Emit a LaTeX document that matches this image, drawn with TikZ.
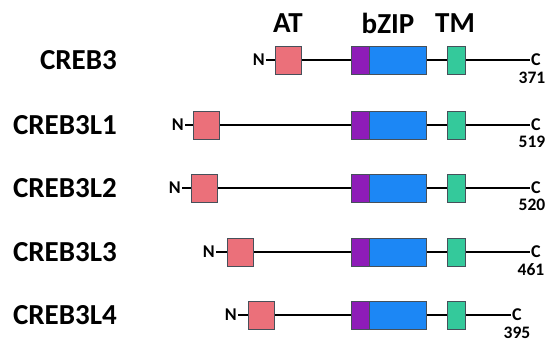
\documentclass[tikz,border=0pt]{standalone}
\usepackage{fontspec}
\setmainfont{Carlito}
\usepackage{xcolor}
\usetikzlibrary{positioning}

\definecolor{atpink}{RGB}{235,112,122}
\definecolor{basicpurple}{RGB}{142,28,184}
\definecolor{zipblue}{RGB}{28,135,245}
\definecolor{tmgreen}{RGB}{52,201,155}
\definecolor{boxedge}{RGB}{70,80,90}

\tikzset{
  genename/.style={
    anchor=east, inner sep=0pt, font=\fontsize{29}{31}\selectfont\bfseries
  },
  domainlabel/.style={
    inner sep=0pt, font=\fontsize{29}{31}\selectfont\bfseries
  },
  termlabel/.style={
    inner sep=1pt, font=\fontsize{18}{20}\selectfont\bfseries
  },
  lenlabel/.style={
    inner sep=0pt, font=\fontsize{17.5}{19}\selectfont\bfseries
  },
  backbone/.style={line width=2pt, black},
  domainbox/.style={
    draw=boxedge, line width=0.5pt, inner sep=0pt, minimum height=28pt
  },
  atbox/.style={domainbox, fill=atpink, minimum width=26pt},
  basicbox/.style={domainbox, fill=basicpurple, minimum width=18pt},
  zipbox/.style={domainbox, fill=zipblue, minimum width=57pt},
  tmbox/.style={domainbox, fill=tmgreen, minimum width=18pt},
}

\begin{document}
\begin{tikzpicture}[x=1pt, y=-1pt]
  \useasboundingbox (0,0) rectangle (547,343);

  % ── domain headers ──
  \node[domainlabel] (hdrat)   at (288,23) {AT};
  \node[domainlabel] (hdrzip)  at (388,23) {bZIP};
  \node[domainlabel] (hdrtm)   at (455,23) {TM};

  % ── CREB3 ──
  \node[genename] (name1) at (117,60) {CREB3};
  \node[termlabel, anchor=east] (nterm1) at (266,60) {N};
  \node[termlabel, anchor=west] (cterm1) at (530,60) {C};
  \draw[backbone] (nterm1.east) -- (cterm1.west);
  \node[lenlabel] (len1) at (532,78) {371};
  \node[atbox]    (at1)    at (288,60) {};
  \node[basicbox] (basic1) at (360,60) {};
  \node[zipbox, right=0pt of basic1] (zip1) {};
  \node[tmbox]    (tm1)    at (456,60) {};

  % ── CREB3L1 ──
  \node[genename] (name2) at (117,125) {CREB3L1};
  \node[termlabel, anchor=east] (nterm2) at (185,125) {N};
  \node[termlabel, anchor=west] (cterm2) at (530,125) {C};
  \draw[backbone] (nterm2.east) -- (cterm2.west);
  \node[lenlabel] (len2) at (532,142) {519};
  \node[atbox]    (at2)    at (206,125) {};
  \node[basicbox] (basic2) at (360,125) {};
  \node[zipbox, right=0pt of basic2] (zip2) {};
  \node[tmbox]    (tm2)    at (456,125) {};

  % ── CREB3L2 ──
  \node[genename] (name3) at (117,188) {CREB3L2};
  \node[termlabel, anchor=east] (nterm3) at (182,188) {N};
  \node[termlabel, anchor=west] (cterm3) at (530,188) {C};
  \draw[backbone] (nterm3.east) -- (cterm3.west);
  \node[lenlabel] (len3) at (532,205) {520};
  \node[atbox]    (at3)    at (204,188) {};
  \node[basicbox] (basic3) at (360,188) {};
  \node[zipbox, right=0pt of basic3] (zip3) {};
  \node[tmbox]    (tm3)    at (456,188) {};

  % ── CREB3L3 ──
  \node[genename] (name4) at (117,252) {CREB3L3};
  \node[termlabel, anchor=east] (nterm4) at (216,252) {N};
  \node[termlabel, anchor=west] (cterm4) at (530,252) {C};
  \draw[backbone] (nterm4.east) -- (cterm4.west);
  \node[lenlabel] (len4) at (531,270) {461};
  \node[atbox]    (at4)    at (240,252) {};
  \node[basicbox] (basic4) at (360,252) {};
  \node[zipbox, right=0pt of basic4] (zip4) {};
  \node[tmbox]    (tm4)    at (456,252) {};

  % ── CREB3L4 ──
  \node[genename] (name5) at (117,315) {CREB3L4};
  \node[termlabel, anchor=east] (nterm5) at (238,315) {N};
  \node[termlabel, anchor=west] (cterm5) at (511,315) {C};
  \draw[backbone] (nterm5.east) -- (cterm5.west);
  \node[lenlabel] (len5) at (517,333) {395};
  \node[atbox]    (at5)    at (261,315) {};
  \node[basicbox] (basic5) at (360,315) {};
  \node[zipbox, right=0pt of basic5] (zip5) {};
  \node[tmbox]    (tm5)    at (456,315) {};
\end{tikzpicture}
\end{document}
